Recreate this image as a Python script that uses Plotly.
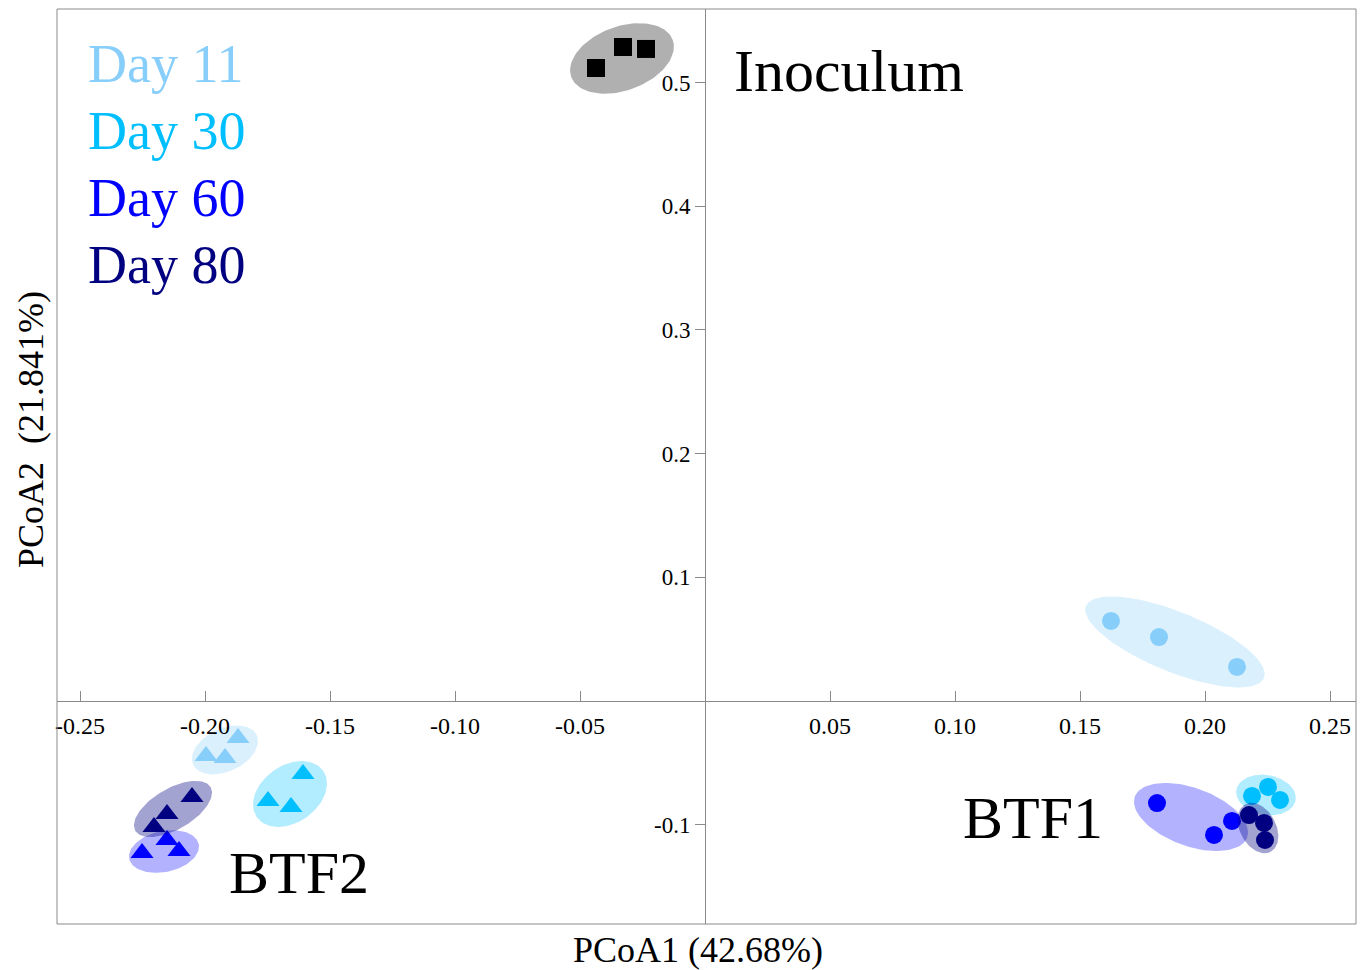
import numpy as np
import plotly.graph_objects as go

# ---------------- data ----------------
x_range = [-0.2592, 0.2604]
y_range = [-0.1803, 0.5594]

x_tickvals = [-0.25, -0.20, -0.15, -0.10, -0.05, 0.05, 0.10, 0.15, 0.20, 0.25]
x_ticktext = ["-0.25", "-0.20", "-0.15", "-0.10", "-0.05", "0.05", "0.10", "0.15", "0.20", "0.25"]
y_tickvals = [-0.1, 0.1, 0.2, 0.3, 0.4, 0.5]
y_ticktext = ["-0.1", "0.1", "0.2", "0.3", "0.4", "0.5"]

days = ["Day 11", "Day 30", "Day 60", "Day 80"]
day_colors = ["#87CEFA", "#00BFFF", "#0000FF", "#000080"]
day_ell_alpha = [0.3, 0.3, 0.3, 0.36]

inoc_x = [-0.0436, -0.0328, -0.0236]
inoc_y = [0.5117, 0.5287, 0.5271]

btf1_x = [
    [0.1624, 0.1816, 0.2128],
    [0.2188, 0.2252, 0.2300],
    [0.1808, 0.2036, 0.2108],
    [0.2176, 0.2236, 0.2240],
]
btf1_y = [
    [0.0647, 0.0517, 0.0275],
    [-0.0768, -0.0695, -0.0800],
    [-0.0825, -0.1083, -0.0970],
    [-0.0922, -0.0986, -0.1124],
]
btf2_x = [
    [-0.1868, -0.1996, -0.1920],
    [-0.1608, -0.1748, -0.1656],
    [-0.2152, -0.2252, -0.2104],
    [-0.2052, -0.2152, -0.2204],
]
btf2_y = [
    [-0.0299, -0.0445, -0.0461],
    [-0.0590, -0.0808, -0.0857],
    [-0.1124, -0.1229, -0.1213],
    [-0.0776, -0.0914, -0.1019],
]

# confidence ellipses: centre x, centre y, semi-major, semi-minor (x units), tilt (deg)
inoc_ell = (-0.0332, 0.5194, 0.0216, 0.0128, 20)
btf1_ell = [
    (0.1880, 0.0477, 0.0384, 0.0120, -22),
    (0.2244, -0.0760, 0.0120, 0.0080, -10),
    (0.1944, -0.0938, 0.0239, 0.0116, -20),
    (0.2212, -0.1027, 0.0108, 0.0072, -62),
]
btf2_ell = [
    (-0.1920, -0.0396, 0.0140, 0.0086, 25),
    (-0.1660, -0.0752, 0.0162, 0.0114, 35),
    (-0.2164, -0.1217, 0.0142, 0.0082, 12),
    (-0.2128, -0.0873, 0.0174, 0.0082, 30),
]

# ---------------- layout geometry ----------------
W, H = 1364, 970
ML, MR, MT, MB = 57, 8, 9, 46
PW, PH = W - ML - MR, H - MT - MB
kx = PW / (x_range[1] - x_range[0])
ky = PH / (y_range[1] - y_range[0])

FONT = "Liberation Serif, Times New Roman, serif"


def ellipse_xy(cx, cy, a, b, ang):
    t = np.linspace(0, 2 * np.pi, 120)
    th = np.deg2rad(ang)
    ex = a * np.cos(t) * np.cos(th) - b * np.sin(t) * np.sin(th)
    ey = (a * np.cos(t) * np.sin(th) + b * np.sin(t) * np.cos(th)) * kx / ky
    return cx + ex, cy + ey


def rgba(hexcol, a):
    h = hexcol.lstrip("#")
    r, g, b = int(h[0:2], 16), int(h[2:4], 16), int(h[4:6], 16)
    return f"rgba({r},{g},{b},{a})"


fig = go.Figure()


def add_ellipse(params, fill):
    ex, ey = ellipse_xy(*params)
    fig.add_trace(go.Scatter(x=ex, y=ey, mode="lines", fill="toself",
                             fillcolor=fill, line=dict(width=0),
                             hoverinfo="skip", showlegend=False))


def add_points(xs, ys, color, symbol, size):
    fig.add_trace(go.Scatter(x=xs, y=ys, mode="markers",
                             marker=dict(color=color, symbol=symbol, size=size,
                                         line=dict(width=0)),
                             showlegend=False))


# inoculum
add_ellipse(inoc_ell, "rgba(0,0,0,0.31)")
add_points(inoc_x, inoc_y, "#000000", "square", 18)

# BTF1 (circles) and BTF2 (triangles)
for i in range(4):
    add_ellipse(btf1_ell[i], rgba(day_colors[i], day_ell_alpha[i]))
    add_points(btf1_x[i], btf1_y[i], day_colors[i], "circle", 18)
    add_ellipse(btf2_ell[i], rgba(day_colors[i], day_ell_alpha[i]))
    add_points(btf2_x[i], btf2_y[i], day_colors[i], "triangle-up", 20)

xzero = (0 - x_range[0]) / (x_range[1] - x_range[0])
yzero = (0 - y_range[0]) / (y_range[1] - y_range[0])


def px(xp):
    return (xp - ML) / PW


def py(yp):
    return (H - MB - yp) / PH


annotations = []
for i, d in enumerate(days):
    annotations.append(dict(x=px(86), y=py(64 + 67 * i), xref="paper", yref="paper",
                            text=d, showarrow=False, xanchor="left", yanchor="middle",
                            font=dict(family=FONT, size=54, color=day_colors[i])))
annotations += [
    dict(x=px(732), y=py(71), xref="paper", yref="paper", text="Inoculum",
         showarrow=False, xanchor="left", yanchor="middle",
         font=dict(family=FONT, size=60, color="black")),
    dict(x=px(961), y=py(818), xref="paper", yref="paper", text="BTF1",
         showarrow=False, xanchor="left", yanchor="middle",
         font=dict(family=FONT, size=60, color="black")),
    dict(x=px(227), y=py(873), xref="paper", yref="paper", text="BTF2",
         showarrow=False, xanchor="left", yanchor="middle",
         font=dict(family=FONT, size=60, color="black")),
    dict(x=px(698), y=py(950), xref="paper", yref="paper", text="PCoA1 (42.68%)",
         showarrow=False, xanchor="center", yanchor="middle",
         font=dict(family=FONT, size=36, color="black")),
    dict(x=px(31), y=py(430), xref="paper", yref="paper", text="PCoA2  (21.841%)",
         showarrow=False, xanchor="center", yanchor="middle", textangle=-90,
         font=dict(family=FONT, size=36, color="black")),
]

fig.update_layout(
    width=W, height=H,
    margin=dict(l=ML, r=MR, t=MT, b=MB),
    paper_bgcolor="white", plot_bgcolor="white",
    showlegend=False,
    annotations=annotations,
    shapes=[dict(type="rect", xref="paper", yref="paper", x0=0, y0=0, x1=1, y1=1,
                 line=dict(color="#8a8a8a", width=1), layer="above")],
    xaxis=dict(range=x_range, tickvals=x_tickvals, ticktext=x_ticktext,
               ticks="inside", ticklen=10, tickcolor="#8a8a8a", tickwidth=1,
               showline=True, linecolor="#8a8a8a", linewidth=1,
               anchor="free", position=yzero, showgrid=False, zeroline=False,
               ticklabelstandoff=3,
               tickfont=dict(family=FONT, size=24, color="black")),
    yaxis=dict(range=y_range, tickvals=y_tickvals, ticktext=y_ticktext,
               ticks="outside", ticklen=10, tickcolor="#8a8a8a", tickwidth=1,
               showline=True, linecolor="#8a8a8a", linewidth=1,
               anchor="free", position=xzero, showgrid=False, zeroline=False,
               tickfont=dict(family=FONT, size=23, color="black")),
)

fig.write_html("out.html",
               config={"displayModeBar": False},
               post_script="document.body.style.margin='0';document.body.style.overflow='hidden';")
